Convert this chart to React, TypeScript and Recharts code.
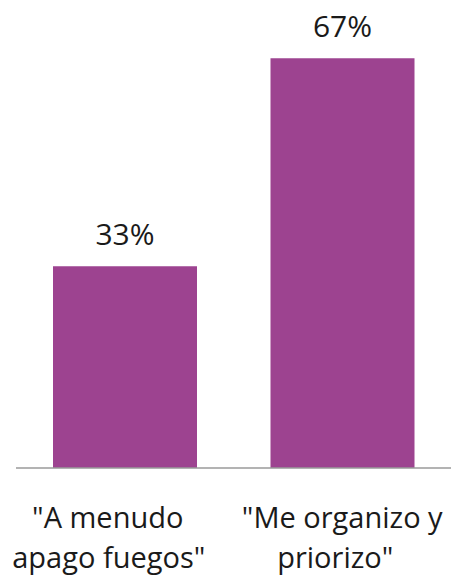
import React from 'react';
import { BarChart, Bar, XAxis, YAxis, LabelList } from 'recharts';

const categories = ['"A menudo apago fuegos"', '"Me organizo y priorizo"'];
const tickLines = [
  ['"A menudo', 'apago fuegos"'],
  ['"Me organizo y', 'priorizo"'],
];
const shares = [33, 67];

const data = categories.map((name, i) => ({ name, value: shares[i] }));

const FONT = "'Open Sans', sans-serif";
// per-line horizontal nudges, the source text boxes are not centred on the bars
const lineShift = [
  [-17, -16],
  [0, -7],
];

function CategoryTick({ x, y, index }: any) {
  const lines = tickLines[index] || [];
  return (
    <text y={y} textAnchor="middle" fontFamily={FONT} fontSize={29} fill="#1a1a1a">
      {lines.map((l, i) => (
        <tspan key={i} x={x + lineShift[index][i]} dy={i === 0 ? 52 : 40}>
          {l}
        </tspan>
      ))}
    </text>
  );
}

export default function App() {
  return (
    <div style={{ position: 'absolute', left: 0, top: 0, background: '#fff' }}>
      <BarChart
        width={457}
        height={579}
        data={data}
        margin={{ top: 40, right: 6, bottom: 11, left: 16 }}
        barSize={144}
      >
        <YAxis hide domain={[0, 70]} />
        <XAxis
          dataKey="name"
          height={100}
          axisLine={{ stroke: '#9a9a9a', strokeWidth: 1.5 }}
          tickLine={false}
          tick={<CategoryTick />}
          interval={0}
        />
        <Bar dataKey="value" fill="#9d4390" isAnimationActive={false}>
          <LabelList
            dataKey="value"
            position="top"
            offset={21}
            formatter={(v: any) => `${v}%`}
            style={{ fontFamily: FONT, fontSize: 30, fill: '#1a1a1a' }}
          />
        </Bar>
      </BarChart>
    </div>
  );
}
